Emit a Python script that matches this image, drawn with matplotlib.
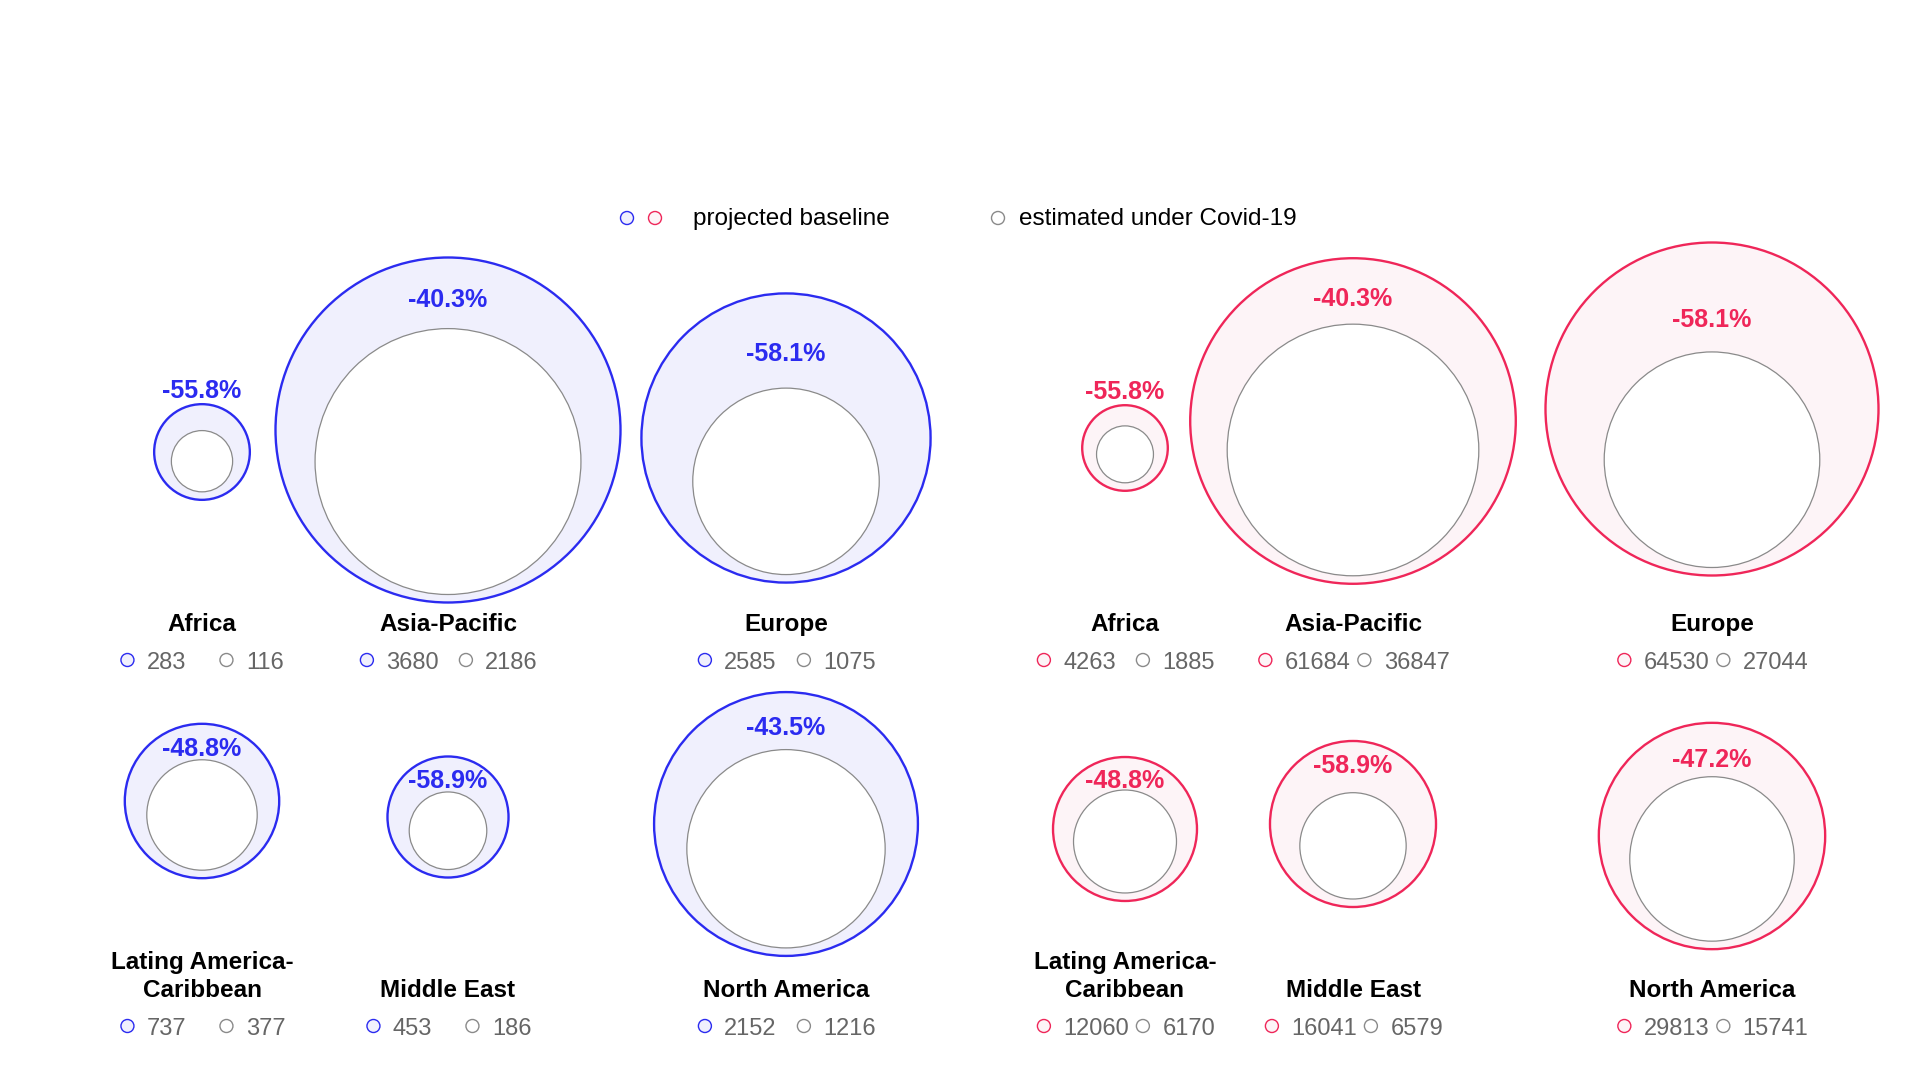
import numpy as np
import matplotlib
matplotlib.use("Agg")
import matplotlib.pyplot as plt
from matplotlib.patches import Circle

# ---------------- data ----------------
regions = ["Africa", "Asia-Pacific", "Europe",
           "Lating America-\nCaribbean", "Middle East", "North America"]

blue_baseline = [283, 3680, 2585, 737, 453, 2152]
blue_covid = [116, 2186, 1075, 377, 186, 1216]
blue_pct = [-55.8, -40.3, -58.1, -48.8, -58.9, -43.5]

red_baseline = [4263, 61684, 64530, 12060, 16041, 29813]
red_covid = [1885, 36847, 27044, 6170, 6579, 15741]
red_pct = [-55.8, -40.3, -58.1, -48.8, -58.9, -47.2]

legend_labels = ["projected baseline", "estimated under Covid-19"]

# ---------------- style / layout ----------------
FONT = "Liberation Sans"
BLUE = "#2b2bf0"
BLUE_FILL = "#f0f0fd"
RED = "#ef2659"
RED_FILL = "#fdf4f7"
GREY = "#8a8a8a"
TXT_GREY = "#666666"

W, H = 1920, 1080
fig = plt.figure(figsize=(W / 100, H / 100), dpi=100)
ax = fig.add_axes([0, 0, 1, 1])
ax.set_xlim(0, W)
ax.set_ylim(H, 0)
ax.set_aspect("equal")
ax.axis("off")

panels = [
    dict(base=blue_baseline, cov=blue_covid, pct=blue_pct, edge=BLUE, fill=BLUE_FILL,
         cols=[202, 448, 786], cy=[452, 430, 438, 801, 817, 824], rmax=172.5,
         lnudge=[0, 0, 7, 1, 0, 1]),
    dict(base=red_baseline, cov=red_covid, pct=red_pct, edge=RED, fill=RED_FILL,
         cols=[1125, 1353, 1712], cy=[448, 421, 409, 829, 824, 836], rmax=166.5,
         lnudge=[0, 1, 16, 1, -7, 4]),
]
NAME_Y = [631, 997]
VAL_Y = [669, 1035]
GAP = 8
FS = 17


def small_marker(x, y, edge, fill, lw=1.0):
    ax.add_patch(Circle((x, y), 6.5, facecolor=fill, edgecolor=edge, lw=lw, zorder=5))


for p in panels:
    k = p["rmax"] / np.sqrt(max(p["base"]))
    for i, name in enumerate(regions):
        cx = p["cols"][i % 3]
        cy = p["cy"][i]
        row = i // 3
        R = k * np.sqrt(p["base"][i])
        r = k * np.sqrt(p["cov"][i])
        ax.add_patch(Circle((cx, cy), R, facecolor=p["fill"], edgecolor=p["edge"], lw=1.7, zorder=2))
        icy = cy + R - GAP - r
        ax.add_patch(Circle((cx, icy), r, facecolor="white", edgecolor=GREY, lw=0.9, zorder=3))
        outer_top = cy - R
        inner_top = icy - r
        if inner_top - outer_top < 30:
            ly = outer_top - 15
        else:
            ly = (outer_top + inner_top) / 2 + 5
        ly += p["lnudge"][i]
        ax.text(cx, ly + 8.5, f"{p['pct'][i]:.1f}%", color=p["edge"], fontsize=18,
                fontweight="bold", family=FONT, ha="center", va="baseline", zorder=6)
        # region name
        ax.text(cx, NAME_Y[row] + 5, name, fontsize=17.5, fontweight="bold", family=FONT,
                ha="center", va="bottom", linespacing=1.25, multialignment="center", color="black")
        # values row
        s1 = f"{p['base'][i]}"
        s2 = f"{p['cov'][i]}"
        g2w = 28 + 13.1 * len(s2)
        total = 99 + g2w
        start = cx - total / 2
        vy = VAL_Y[row]
        small_marker(start + 8.6, vy - 9, p["edge"], p["fill"])
        ax.text(start + 28, vy, s1, fontsize=FS, family=FONT, color=TXT_GREY, ha="left", va="baseline")
        small_marker(start + 99 + 8.6, vy - 9, GREY, "white")
        ax.text(start + 99 + 28, vy, s2, fontsize=FS, family=FONT, color=TXT_GREY, ha="left", va="baseline")

# legend
LY = 218
small_marker(627, LY, BLUE, BLUE_FILL)
small_marker(655, LY, RED, RED_FILL)
ax.text(693, LY + 7, legend_labels[0], fontsize=17.5, family=FONT, color="black", ha="left", va="baseline")
small_marker(998, LY, GREY, "white")
ax.text(1019, LY + 7, legend_labels[1], fontsize=17.5, family=FONT, color="black", ha="left", va="baseline")

fig.savefig("out.png", dpi=100, facecolor="white")
